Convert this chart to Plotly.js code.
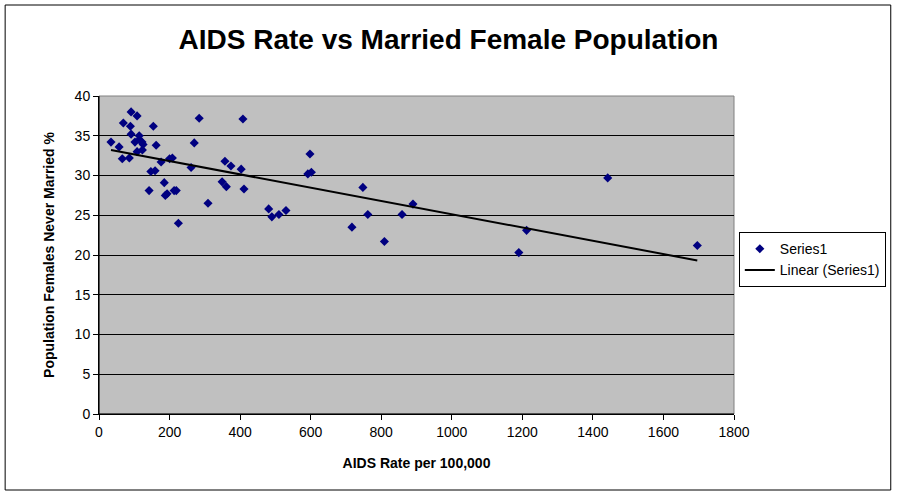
<!DOCTYPE html>
<html><head><meta charset="utf-8">
<script src="https://cdn.plot.ly/plotly-3.0.1.min.js"></script>
<style>body{margin:0;padding:0;background:#fff}#chart{width:897px;height:495px}</style>
</head><body><div id="chart"></div>
<script>
const aidsRate = [34,57,66,69,86,89,91,91,102,108,108,114,114,122,125,123,154,162,147,159,142,176,185,188,193,200,208,213,219,225,261,270,284,309,349,357,361,374,403,408,411,481,490,510,530,592,598,602,717,748,762,809,859,890,1190,1212,1442,1696];
const neverMarried = [34.2,33.6,32.1,36.6,32.2,36.2,38.0,35.2,34.2,37.5,33.0,35.0,34.5,34.2,33.9,33.2,36.2,33.8,30.5,30.6,28.1,31.7,29.1,27.5,27.7,32.1,32.2,28.1,28.1,24.0,31.0,34.1,37.2,26.5,29.2,31.8,28.6,31.2,30.8,37.1,28.3,25.8,24.8,25.1,25.6,30.2,32.7,30.4,23.5,28.5,25.1,21.7,25.1,26.4,20.3,23.1,29.7,21.2];
const titleText = "AIDS Rate vs Married Female Population";
const xTitle = "AIDS Rate per 100,000";
const yTitle = "Population Females Never Married %";
const seriesName = "Series1";
const trendName = "Linear (Series1)";

// least squares linear trendline
const n = aidsRate.length;
let sx=0, sy=0, sxx=0, sxy=0;
for (let i=0;i<n;i++){sx+=aidsRate[i];sy+=neverMarried[i];sxx+=aidsRate[i]*aidsRate[i];sxy+=aidsRate[i]*neverMarried[i];}
const slope = (n*sxy - sx*sy)/(n*sxx - sx*sx);
const icpt = (sy - slope*sx)/n;
const xmin = Math.min(...aidsRate), xmax = Math.max(...aidsRate);
const trendX = [xmin, xmax];
const trendY = trendX.map(v => icpt + slope*v);

const font = "Arial, 'Liberation Sans', sans-serif";
const data = [
  {x: aidsRate, y: neverMarried, type:'scatter', mode:'markers', name: seriesName,
   marker:{symbol:'diamond', size:7, color:'#000080', line:{width:0}}, cliponaxis:false},
  {x: trendX, y: trendY, type:'scatter', mode:'lines', name: trendName,
   line:{color:'#000000', width:2}}
];
const layout = {
  width:897, height:495,
  margin:{l:99, r:162, t:96, b:81},
  paper_bgcolor:'#ffffff', plot_bgcolor:'#c0c0c0',
  font:{family:font, color:'#000000', size:13},
  title:{text:titleText, font:{family:font, size:28, color:'#000', weight:'bold'}, x:0.5, xref:'container', xanchor:'center', y:0.92, yref:'container', yanchor:'middle'},
  xaxis:{range:[0,1800], dtick:200, tick0:0, showgrid:false, zeroline:false,
    showline:true, linecolor:'#000', linewidth:1, ticks:'outside', ticklen:5, tickcolor:'#000',
    tickfont:{family:font, size:14}, fixedrange:true,
    title:{text:xTitle, font:{family:font, size:14, weight:'bold'}, standoff:19}},
  yaxis:{range:[0,40], dtick:5, tick0:0, showgrid:true, gridcolor:'#000', gridwidth:1, zeroline:false,
    showline:true, linecolor:'#000', linewidth:1, ticks:'outside', ticklen:5, tickcolor:'#000',
    tickfont:{family:font, size:14}, fixedrange:true,
    title:{text:yTitle, font:{family:font, size:14, weight:'bold'}, standoff:16}},
  showlegend:true,
  legend:{x:1.006, xanchor:'left', y:0.572, yanchor:'top', bgcolor:'#fff', bordercolor:'#000', borderwidth:1,
    font:{family:font, size:14}, tracegroupgap:0, itemwidth:30},
  shapes:[
    {type:'rect', xref:'paper', yref:'paper', x0:0, x1:1, y0:0, y1:1, line:{color:'#808080', width:1}, layer:'below'},
    {type:'line', xref:'paper', yref:'paper', x0:0, x1:0, y0:0, y1:1, line:{color:'#000', width:1}},
    {type:'line', xref:'paper', yref:'paper', x0:0, x1:1, y0:0, y1:0, line:{color:'#000', width:1}},
    {type:'rect', xref:'paper', yref:'paper', x0:-94/636, x1:(892-99)/636, y0:-(490-414)/318, y1:(414-5)/318, line:{color:'#000', width:1}}
  ]
};
Plotly.newPlot('chart', data, layout, {staticPlot:true, displayModeBar:false});
</script></body></html>
